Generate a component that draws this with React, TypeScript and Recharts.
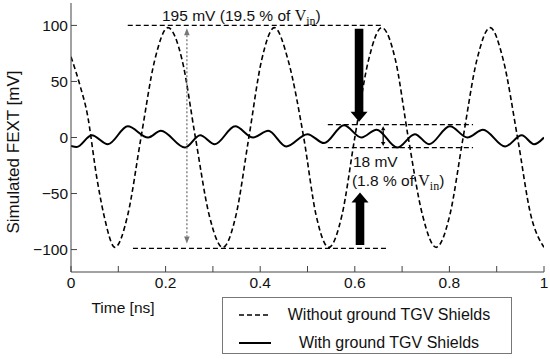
import { LineChart, Line, XAxis, YAxis, ReferenceLine, ReferenceDot, Legend } from 'recharts';

// FEXT without ground TGV shields (dashed)
const withoutTime = [0, 0.02, 0.034, 0.055, 0.07, 0.093, 0.12, 0.148, 0.177, 0.205, 0.235, 0.263, 0.292, 0.321, 0.349, 0.376, 0.403, 0.43, 0.459, 0.492, 0.518, 0.545, 0.573, 0.6, 0.629, 0.657, 0.686, 0.713, 0.743, 0.772, 0.801, 0.829, 0.858, 0.886, 0.914, 0.944, 0.972, 1.0];
const withoutMv = [72, 45, 22, -37, -70, -98, -69, 0, 69, 98, 69, 0, -69, -98, -69, 0, 69, 98, 69, 0, -69, -98, -69, 0, 69, 98, 69, 0, -69, -98, -69, 0, 69, 98, 69, 0, -69, -98];

// FEXT with ground TGV shields (solid)
const withTime = [0, 0.012, 0.044, 0.078, 0.12, 0.163, 0.19, 0.241, 0.273, 0.304, 0.347, 0.385, 0.417, 0.455, 0.5, 0.535, 0.577, 0.614, 0.646, 0.69, 0.727, 0.757, 0.801, 0.838, 0.871, 0.918, 0.953, 0.979, 1.0];
const withMv = [-7.5, -8.5, 2, -6, 10, 0, 6, -9, 2, -6, 10, 0, 6, -8, 3, -5, 11, 0, 7, -9, 3, -6, 10, 0, 7, -8, 2, -6, 0];

const xTicks = [0, 0.1, 0.2, 0.3, 0.4, 0.5, 0.6, 0.7, 0.8, 0.9, 1];
const xLabelled = [0, 0.2, 0.4, 0.6, 0.8, 1];
const yTicks = [-100, -50, 0, 50, 100];

const seriesNames = ['Without ground TGV Shields', 'With ground TGV Shields'];

const withoutData = withoutTime.map((t, i) => ({ t, v: withoutMv[i] }));
const withData = withTime.map((t, i) => ({ t, v: withMv[i] }));

const SANS = '"Liberation Sans", Arial, sans-serif';
const SERIF = '"Liberation Serif", "Times New Roman", serif';
const AXIS = '#444';
const TICK_STYLE = { fontSize: 15.5, fill: '#111', fontFamily: SANS };

const fmtX = (v: number) => (xLabelled.includes(v) ? String(v) : '');
const fmtY = (v: number) => (v < 0 ? '\u2212' + Math.abs(v) : String(v));
const blank = () => '';

// solid block arrow, tip at (x2, y2)
const blockArrow = (p: any) => {
  const { x1, y1, x2, y2 } = p;
  const dir = y2 > y1 ? 1 : -1;
  const sw = 4.3, hw = 8.5, hl = 10;
  const yb = y2 - dir * hl;
  const pts = [[x1 - sw, y1], [x1 + sw, y1], [x1 + sw, yb], [x1 + hw, yb], [x2, y2], [x1 - hw, yb], [x1 - sw, yb]];
  return <polygon points={pts.map(q => q.join(',')).join(' ')} fill="#000" />;
};

// thin line with arrowheads at both ends
const doubleArrow = (color: string, dash: string | undefined, hl: number, hw: number) => (p: any) => {
  const { x1, y1, x2, y2 } = p;
  const d = y2 > y1 ? 1 : -1;
  return (
    <g>
      <line x1={x1} y1={y1 + d * hl} x2={x2} y2={y2 - d * hl} stroke={color} strokeWidth={1.3} strokeDasharray={dash} />
      <polygon points={`${x1},${y1} ${x1 - hw},${y1 + d * hl} ${x1 + hw},${y1 + d * hl}`} fill={color} />
      <polygon points={`${x2},${y2} ${x2 - hw},${y2 - d * hl} ${x2 + hw},${y2 - d * hl}`} fill={color} />
    </g>
  );
};

const vinText = (prefix: string) => (p: any) => (
  <text x={p.cx} y={p.cy} style={{ fontSize: 15.5, fontFamily: SANS }} fill="#111">
    {prefix}
    <tspan style={{ fontFamily: SERIF, fontSize: 16 }}>V</tspan>
    <tspan style={{ fontFamily: SERIF, fontSize: 12 }} dy={4}>in</tspan>
    <tspan dy={-4}>)</tspan>
  </text>
);

const plainText = (str: string) => (p: any) => (
  <text x={p.cx} y={p.cy} style={{ fontSize: 15.5, fontFamily: SANS }} fill="#111">{str}</text>
);

const LegendBox = () => (
  <div style={{ width: 290, height: 57, boxSizing: 'border-box', border: '1px solid #777', background: '#fff', fontSize: 16, fontFamily: SANS, color: '#111' }}>
    {seriesNames.map((name, i) => (
      <div key={name} style={{ position: 'relative', height: i === 0 ? 31 : 24 }}>
        <svg width={40} height={20} style={{ position: 'absolute', left: 14, top: i === 0 ? 7 : 4 }}>
          <line x1={2} y1={10} x2={34} y2={10} stroke="#000" strokeWidth={i === 0 ? 1.6 : 2} strokeDasharray={i === 0 ? '5 3' : undefined} />
        </svg>
        <div style={{ position: 'absolute', left: 44, right: 0, top: i === 0 ? 7 : 4, textAlign: 'center', lineHeight: '20px', whiteSpace: 'nowrap' }}>{name}</div>
      </div>
    ))}
  </div>
);

export default function App() {
  return (
    <div style={{ position: 'absolute', left: 0, top: 0, width: 550, height: 359, background: '#fff', fontFamily: SANS }}>
      <LineChart width={550} height={359} margin={{ top: 3, right: 6, bottom: 0, left: 0 }} style={{ fontFamily: SANS }}>
        <XAxis
          xAxisId={0}
          type="number"
          dataKey="t"
          domain={[0, 1]}
          ticks={xTicks}
          tickFormatter={fmtX}
          tickSize={-6}
          tickMargin={11}
          height={87}
          stroke={AXIS}
          tick={TICK_STYLE}
          allowDataOverflow
          label={{
            content: (props: any) => (
              <text x={props.viewBox.x + 52} y={props.viewBox.y + 41} textAnchor="middle" style={{ fontSize: 15.5, fontFamily: SANS }} fill="#111">Time [ns]</text>
            ),
          }}
        />
        <XAxis xAxisId="top" orientation="top" type="number" dataKey="t" domain={[0, 1]} ticks={xTicks} tickFormatter={blank} tickSize={-6} height={0} stroke={AXIS} allowDataOverflow />
        <YAxis
          yAxisId={0}
          type="number"
          domain={[-120, 120]}
          ticks={yTicks}
          tickFormatter={fmtY}
          tickSize={-6}
          tickMargin={9}
          width={71}
          stroke={AXIS}
          tick={TICK_STYLE}
          allowDataOverflow
          label={{
            content: () => (
              <text x={19} y={152} transform="rotate(-90, 19, 152)" textAnchor="middle" style={{ fontSize: 17, fontFamily: SANS }} fill="#111">Simulated FEXT [mV]</text>
            ),
          }}
        />
        <YAxis yAxisId="right" orientation="right" type="number" domain={[-120, 120]} ticks={yTicks} tickFormatter={blank} tickSize={-6} width={0} stroke={AXIS} allowDataOverflow />

        <Line data={withoutData} dataKey="v" name={seriesNames[0]} type="monotone" stroke="#000" strokeWidth={1.6} strokeDasharray="5 3" dot={false} activeDot={false} isAnimationActive={false} />
        <Line data={withData} dataKey="v" name={seriesNames[1]} type="monotone" stroke="#000" strokeWidth={2} dot={false} activeDot={false} isAnimationActive={false} />

        {/* peak-to-peak guides */}
        <ReferenceLine segment={[{ x: 0.12, y: 100 }, { x: 0.657, y: 100 }]} stroke="#000" strokeWidth={1.2} strokeDasharray="5 3" />
        <ReferenceLine segment={[{ x: 0.131, y: -99 }, { x: 0.668, y: -99 }]} stroke="#000" strokeWidth={1.2} strokeDasharray="5 3" />
        <ReferenceLine segment={[{ x: 0.543, y: 11.5 }, { x: 0.85, y: 11.5 }]} stroke="#000" strokeWidth={1.2} strokeDasharray="5 3" />
        <ReferenceLine segment={[{ x: 0.543, y: -9 }, { x: 0.85, y: -9 }]} stroke="#000" strokeWidth={1.2} strokeDasharray="5 3" />

        <ReferenceLine segment={[{ x: 0.245, y: 97.5 }, { x: 0.245, y: -94.5 }]} shape={doubleArrow('#777', '2 2', 7, 2.8)} />
        <ReferenceLine segment={[{ x: 0.66, y: 10 }, { x: 0.66, y: -7.5 }]} shape={doubleArrow('#000', undefined, 4, 2.2)} />

        <ReferenceLine segment={[{ x: 0.609, y: 97 }, { x: 0.609, y: 14 }]} shape={blockArrow} />
        <ReferenceLine segment={[{ x: 0.611, y: -96 }, { x: 0.611, y: -49 }]} shape={blockArrow} />

        <ReferenceDot x={0.1924} y={103.6} r={0} shape={vinText('195 mV (19.5 % of ')} />
        <ReferenceDot x={0.596} y={-26.3} r={0} shape={plainText('18 mV')} />
        <ReferenceDot x={0.594} y={-43.3} r={0} shape={vinText('(1.8 % of ')} />

        <Legend
          layout="vertical"
          align="center"
          verticalAlign="middle"
          content={() => <LegendBox />}
          wrapperStyle={{ left: 222, top: 297, width: 290, height: 57 }}
        />
      </LineChart>
    </div>
  );
}
